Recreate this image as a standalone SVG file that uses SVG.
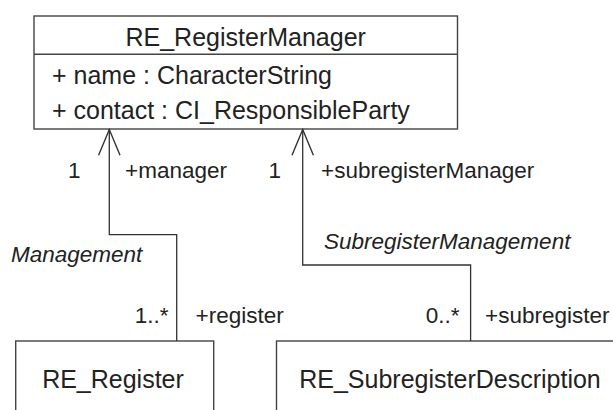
<svg xmlns="http://www.w3.org/2000/svg" width="613" height="410" viewBox="0 0 613 410">
<style>
  .box { fill: #ffffff; stroke: #444444; stroke-width: 1.4; }
  .conn { fill: none; stroke: #333333; stroke-width: 1.3; }
  text { font-family: "Liberation Sans", Arial, sans-serif; fill: #222222; }
  .cls { font-size: 25px; }
  .lbl { font-size: 22.5px; }
  .it { font-size: 22.5px; font-style: italic; }
</style>
<defs>
  <marker id="open" markerUnits="userSpaceOnUse" markerWidth="30" markerHeight="30" viewBox="-26 -12 28 24" refX="0" refY="0" orient="auto-start-reverse" overflow="visible">
    <path d="M -24 -10 L 0 0 L -24 10" fill="none" stroke="#333333" stroke-width="1.3"/>
  </marker>
</defs>
<rect width="613" height="410" fill="#ffffff"/>
<g id="RE_RegisterManager">
  <rect class="box" x="34" y="16" width="423.5" height="113"/>
  <line x1="34" y1="54.3" x2="457.5" y2="54.3" stroke="#444444" stroke-width="1.4"/>
  <text class="cls" x="245.7" y="46" text-anchor="middle">RE_RegisterManager</text>
  <text class="cls" x="52" y="84">+ name : CharacterString</text>
  <text class="cls" x="52" y="119">+ contact : CI_ResponsibleParty</text>
</g>
<g id="RE_Register">
  <rect class="box" x="15.7" y="341" width="198" height="100"/>
  <text class="cls" x="113" y="388" text-anchor="middle">RE_Register</text>
</g>
<g id="RE_SubregisterDescription">
  <rect class="box" x="276.5" y="341" width="347" height="100"/>
  <text class="cls" x="450" y="388" text-anchor="middle">RE_SubregisterDescription</text>
</g>
<g id="connectors">
  <path class="conn" d="M 109.3 129.5 L 109.3 234.7 L 176.7 234.7 L 176.7 341" marker-start="url(#open)"/>
  <path class="conn" d="M 302.7 129.5 L 302.7 265 L 470.6 265 L 470.6 341" marker-start="url(#open)"/>
  <text class="lbl" x="80.5" y="178" text-anchor="end">1</text>
  <text class="lbl" x="125" y="178">+manager</text>
  <text class="it" x="11" y="262">Management</text>
  <text class="lbl" x="168.6" y="323" text-anchor="end">1..*</text>
  <text class="lbl" x="195.5" y="323">+register</text>
  <text class="lbl" x="281" y="178" text-anchor="end">1</text>
  <text class="lbl" x="321" y="178">+subregisterManager</text>
  <text class="it" x="324" y="249">SubregisterManagement</text>
  <text class="lbl" x="459.6" y="323" text-anchor="end">0..*</text>
  <text class="lbl" x="485" y="323">+subregister</text>
</g>
</svg>
